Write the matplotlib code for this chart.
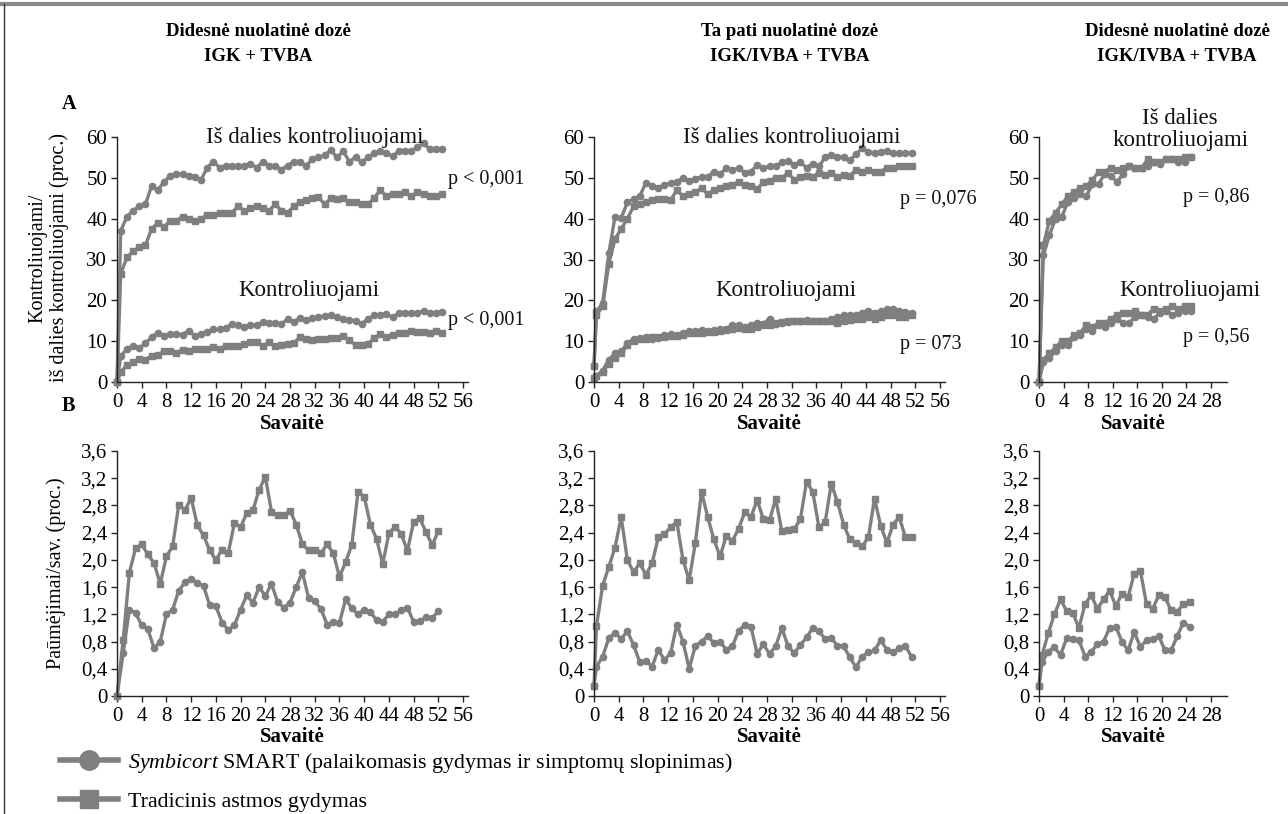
import numpy as np
import matplotlib
matplotlib.use("Agg")
import matplotlib.pyplot as plt
from matplotlib.lines import Line2D

plt.rcParams['font.family'] = ['Liberation Serif', 'DejaVu Serif']
plt.rcParams['mathtext.fontset'] = 'custom'
plt.rcParams['mathtext.it'] = 'Liberation Serif:italic'
plt.rcParams['mathtext.rm'] = 'Liberation Serif'

# ---------------- DATA ----------------
col_titles = ["Didesnė nuolatinė dozė\nIGK + TVBA",
              "Ta pati nuolatinė dozė\nIGK/IVBA + TVBA",
              "Didesnė nuolatinė dozė\nIGK/IVBA + TVBA"]
series_names = [r"$\mathit{Symbicort}$ SMART (palaikomasis gydymas ir simptomų slopinimas)",
                "Tradicinis astmos gydymas"]

# Panel A, left (weeks 0..52)
a1_sym_part = [0, 37, 40.5, 42, 43, 43.5, 48, 47, 49, 50.5, 51, 51, 50.5, 50.3, 49.5, 52.5, 54, 52.5,
               53, 53, 52.8, 53, 53.5, 52.5, 54, 53, 53, 52, 53, 54, 54, 53, 54.5, 55, 55.5, 56.8,
               55, 56.5, 54, 55, 53.8, 55, 56, 56.5, 56, 55.3, 56.5, 56.5, 56.5, 57.5, 58.5, 57, 57, 57]
a1_trad_part = [0, 26.5, 30.5, 32, 33, 33.5, 37.5, 39, 38, 39.5, 39.5, 40.5, 40, 39.5, 40, 41, 41,
                41.3, 41.5, 41.5, 43, 42, 42.5, 43, 42.5, 42, 43.5, 42, 41.5, 43, 44, 44.5, 45, 45.3,
                43.5, 45, 44.8, 45, 44, 44, 43.5, 43.5, 45, 47, 45.5, 46, 46, 46.5, 45.5, 46.5, 46,
                45.5, 45.5, 46]
a1_sym_ctrl = [0, 6.3, 8.1, 8.9, 8.3, 9.5, 11.0, 12.1, 11.2, 11.7, 11.7, 11.6, 12.6, 11.2, 11.8, 12.3,
               12.9, 12.9, 13.3, 14.2, 13.9, 13.4, 13.9, 13.9, 14.6, 14.4, 14.4, 14.2, 15.4, 14.8,
               15.6, 15.1, 15.6, 15.9, 16.2, 16.3, 16.0, 15.4, 15.2, 15.0, 14.3, 15.4, 16.4, 16.4,
               16.7, 15.8, 16.9, 16.9, 16.9, 16.9, 17.4, 16.9, 17.0, 17.2]
a1_trad_ctrl = [0, 2.4, 4.2, 4.8, 5.6, 5.5, 6.4, 6.7, 7.5, 7.5, 7.2, 7.9, 7.7, 8.1, 8.1, 8.2, 8.6,
                8.1, 8.9, 8.7, 8.9, 9.3, 9.7, 9.7, 8.9, 9.7, 8.7, 9.1, 9.4, 9.5, 11.0, 10.5, 10.3,
                10.5, 10.5, 10.7, 10.7, 11.3, 10.2, 9.1, 9.1, 9.4, 10.7, 11.7, 11.0, 11.6, 12.1,
                12.0, 12.6, 12.3, 12.3, 12.0, 12.4, 12.1]

# Panel A, middle
a2_sym_part = [4, 17.3, 19.3, 31.5, 40.5, 40.2, 44, 44.8, 45.5, 48.8, 48, 47.5, 48.3, 48.7, 49, 50,
               49.3, 49.8, 50.2, 50.3, 51.5, 51, 52.3, 52, 52.3, 51.3, 51.5, 53.2, 52.3, 52.8, 52.8,
               53.8, 54.2, 53.2, 53.8, 52.5, 53.5, 52.8, 55, 55.5, 55.2, 55, 54.3, 55.8, 57.2, 56.3,
               56, 56.3, 56.5, 56, 56, 56.2, 56]
a2_trad_part = [4, 16.5, 18.5, 29, 35, 37.5, 40, 43, 43.5, 44, 44.5, 44.8, 44.8, 44.5, 47, 45.5, 46,
                46.5, 47.5, 46, 47, 47.5, 48, 48.3, 49, 48.2, 48, 47.2, 49, 49.3, 50, 50, 51.2,
                49.5, 50.3, 50.5, 50.2, 51.3, 50.8, 51.2, 50.3, 50.8, 50.5, 52, 51.5, 51.8, 51.5,
                51.5, 52.5, 52.5, 53, 52.8, 53]
a2_sym_ctrl = [1, 1.5, 2.8, 5.5, 7, 7.5, 9.5, 10.5, 10.8, 11, 10.5, 10.8, 11.5, 11.8, 11.5, 12, 12.5,
               12.5, 12.8, 12.5, 12.7, 13, 13, 14, 14, 13.5, 14, 14.5, 14.3, 15.5, 14.3, 14.5, 14.8,
               15, 15, 15.3, 15, 15, 15, 15.5, 16, 16.3, 16.5, 16.5, 17, 17.5, 17, 17.3, 17.8, 18,
               17.5, 17.2, 17]
a2_trad_ctrl = [1, 1.5, 2.5, 4.5, 6, 7, 9, 10, 10.5, 10.5, 11, 11, 11, 11.2, 11.3, 11.5, 12, 12, 12,
                12.2, 12.3, 12.5, 12.8, 13, 13.2, 13, 13, 13.5, 14, 14, 14.5, 14.8, 15, 15, 15, 15,
                15, 15, 15, 15, 14.5, 15, 15.2, 15.5, 15.5, 16, 15.5, 16, 16.5, 16.3, 16, 16, 16.3]

# Panel A, right
a3_sym_part = [0, 31, 36, 40, 40.5, 44, 45, 46, 45.5, 48.5, 48.5, 51, 50.5, 49, 51, 53, 52.5, 52.5,
               53, 54, 53.5, 54.5, 54.5, 54, 54, 55]
a3_trad_part = [0, 33.5, 39.5, 41.5, 43.5, 45.5, 46.5, 47.5, 48, 49.5, 51.5, 51.5, 52.5, 52, 52.5, 53,
                52.5, 52.5, 54.5, 54, 54, 54.5, 54.5, 54.5, 55, 55]
a3_sym_ctrl = [0, 5, 6, 7.5, 9, 9, 11, 11.5, 13, 12.5, 14, 13.5, 14.5, 15.5, 14.5, 14.5, 16, 16.5, 16,
               15.5, 17, 17.5, 16.5, 17, 17.5, 17.5]
a3_trad_ctrl = [0, 5.5, 7, 8.5, 10, 10, 11.5, 12, 14, 13.5, 14.5, 14.5, 15.5, 16.5, 17, 17, 17.5,
                16.5, 16.5, 18, 17.5, 18, 18.5, 18, 18.5, 18.5]

# Panel B, left (weeks 0..52)
b1_sym = [0, 0.63, 1.27, 1.22, 1.04, 0.98, 0.70, 0.8, 1.2, 1.27, 1.55, 1.67, 1.72, 1.66, 1.62, 1.33,
          1.32, 1.08, 0.97, 1.04, 1.27, 1.48, 1.37, 1.6, 1.47, 1.65, 1.38, 1.3, 1.37, 1.6, 1.82, 1.44,
          1.39, 1.28, 1.05, 1.09, 1.08, 1.42, 1.29, 1.2, 1.27, 1.24, 1.11, 1.09, 1.2, 1.2, 1.26, 1.3,
          1.09, 1.1, 1.16, 1.14, 1.25]
b1_trad = [0, 0.82, 1.81, 2.17, 2.23, 2.08, 1.95, 1.65, 2.05, 2.2, 2.81, 2.73, 2.91, 2.51, 2.36, 2.14,
           2.0, 2.15, 2.1, 2.54, 2.48, 2.69, 2.73, 3.03, 3.22, 2.71, 2.66, 2.66, 2.72, 2.52, 2.23,
           2.14, 2.14, 2.1, 2.23, 2.1, 1.75, 1.97, 2.22, 3.0, 2.93, 2.52, 2.31, 1.94, 2.39, 2.49,
           2.38, 2.13, 2.56, 2.61, 2.41, 2.22, 2.42]

# Panel B, middle
b2_sym = [0.15, 0.43, 0.58, 0.85, 0.93, 0.84, 0.95, 0.75, 0.5, 0.52, 0.43, 0.68, 0.53, 0.63, 1.05,
          0.8, 0.4, 0.74, 0.8, 0.88, 0.78, 0.8, 0.68, 0.73, 0.96, 1.04, 1.02, 0.62, 0.76, 0.62,
          0.73, 1.0, 0.73, 0.63, 0.75, 0.86, 1.0, 0.95, 0.84, 0.85, 0.74, 0.73, 0.57, 0.42, 0.58,
          0.64, 0.67, 0.82, 0.68, 0.64, 0.7, 0.74, 0.57]
b2_trad = [0.15, 1.03, 1.62, 1.9, 2.18, 2.63, 2.0, 1.82, 1.95, 1.78, 1.95, 2.33, 2.38, 2.48, 2.56,
           2.0, 1.7, 2.25, 3.0, 2.63, 2.3, 2.05, 2.35, 2.28, 2.46, 2.7, 2.63, 2.88, 2.6, 2.58, 2.9,
           2.42, 2.44, 2.45, 2.6, 3.15, 3.0, 2.48, 2.55, 3.12, 2.85, 2.52, 2.3, 2.25, 2.2, 2.33, 2.9,
           2.5, 2.25, 2.52, 2.63, 2.33, 2.33]

# Panel B, right
b3_sym = [0.15, 0.5, 0.65, 0.72, 0.6, 0.85, 0.84, 0.82, 0.58, 0.65, 0.76, 0.8, 1.0, 1.02, 0.8, 0.67,
          0.94, 0.72, 0.82, 0.84, 0.88, 0.67, 0.67, 0.88, 1.08, 1.02]
b3_trad = [0.15, 0.6, 0.92, 1.2, 1.42, 1.25, 1.22, 1.0, 1.35, 1.48, 1.28, 1.42, 1.55, 1.32, 1.5,
           1.45, 1.8, 1.84, 1.35, 1.28, 1.48, 1.45, 1.26, 1.24, 1.35, 1.38]

# Week positions (first entry = week 0, then weekly measurements with a start offset)
def weeks(n, offset):
    return np.concatenate([[0.0], np.arange(n) + offset])

wk_a1 = weeks(len(a1_sym_part) - 1, 0.6)
wk_a2 = weeks(len(a2_sym_part) - 1, 0.4)
wk_a3 = weeks(len(a3_sym_part) - 1, 0.7)
wk_b1 = np.arange(len(b1_sym), dtype=float)
wk_b2 = weeks(len(b2_sym) - 1, 0.4)
wk_b3 = weeks(len(b3_sym) - 1, 0.5)

xt_long = list(range(0, 57, 4))
xt_short = list(range(0, 29, 4))
yt_a = [0, 10, 20, 30, 40, 50, 60]
yt_b = [0, 0.4, 0.8, 1.2, 1.6, 2.0, 2.4, 2.8, 3.2, 3.6]
yt_b_labels = ["0", "0,4", "0,8", "1,2", "1,6", "2,0", "2,4", "2,8", "3,2", "3,6"]

# ---------------- FIGURE ----------------
W, H = 1288, 814
fig = plt.figure(figsize=(W / 100, H / 100), dpi=100)

def box(x0, yb, x1, yt):
    return [x0 / W, 1 - yb / H, (x1 - x0) / W, (yb - yt) / H]

LC = '#7f7f7f'
FS = 15
lkw = dict(color=LC, lw=2.4)
ckw = dict(marker='o', markersize=4.5, markerfacecolor=LC, markeredgecolor=LC)
skw = dict(marker='s', markersize=4, markerfacecolor=LC, markeredgecolor=LC)

def style(ax, xmax, xt, yt, ylabels=None, ymax=60):
    ax.set_xlim(0, xmax)
    ax.set_ylim(0, ymax)
    for s in ['top', 'right']:
        ax.spines[s].set_visible(False)
    for s in ['left', 'bottom']:
        ax.spines[s].set_color('#222222')
        ax.spines[s].set_linewidth(1.0)
    ax.set_xticks(xt)
    ax.set_yticks(yt)
    if ylabels is not None:
        ax.set_yticklabels(ylabels)
    ax.tick_params(direction='out', length=4, width=1, color='#222222', labelsize=FS)
    ax.tick_params(axis='x', pad=4)
    ax.tick_params(axis='y', pad=3)
    ax.set_xlabel("Savaitė", fontsize=FS, fontweight='bold', labelpad=1)
    ax.patch.set_alpha(0)

axA = [fig.add_axes(box(117, 382, 468, 137)),
       fig.add_axes(box(594, 382, 945, 137)),
       fig.add_axes(box(1039, 382, 1227, 137))]
axB = [fig.add_axes(box(117, 696, 468, 451)),
       fig.add_axes(box(594, 696, 945, 451)),
       fig.add_axes(box(1039, 696, 1227, 451))]

A_data = [(wk_a1, a1_sym_part, a1_trad_part, a1_sym_ctrl, a1_trad_ctrl),
          (wk_a2, a2_sym_part, a2_trad_part, a2_sym_ctrl, a2_trad_ctrl),
          (wk_a3, a3_sym_part, a3_trad_part, a3_sym_ctrl, a3_trad_ctrl)]
B_data = [(wk_b1, b1_sym, b1_trad), (wk_b2, b2_sym, b2_trad), (wk_b3, b3_sym, b3_trad)]
xmaxes = [56.8, 56.8, 30.6]
xticks = [xt_long, xt_long, xt_short]

for i in range(3):
    ax = axA[i]
    wk, sp, tp, sc, tc = A_data[i]
    ax.plot(wk, tp, **lkw, **skw, clip_on=False)
    ax.plot(wk, sp, **lkw, **ckw, clip_on=False)
    ax.plot(wk, tc, **lkw, **skw, clip_on=False)
    ax.plot(wk, sc, **lkw, **ckw, clip_on=False)
    style(ax, xmaxes[i], xticks[i], yt_a)

    ax = axB[i]
    wk, s, t = B_data[i]
    ax.plot(wk, t, **lkw, **skw, clip_on=False)
    ax.plot(wk, s, **lkw, **ckw, clip_on=False)
    style(ax, xmaxes[i], xticks[i], yt_b, yt_b_labels, ymax=3.6)

# annotations panel A
AFS = 16.5
tkw = dict(fontsize=AFS, color='#111111')
pkw = dict(fontsize=14.5, color='#111111')
axA[0].text(32, 60, "Iš dalies kontroliuojami", ha='center', va='center', **tkw)
axA[0].text(31, 22.5, "Kontroliuojami", ha='center', va='center', **tkw)
axA[0].text(53.5, 49.5, "p < 0,001", ha='left', va='center', **pkw)
axA[0].text(53.5, 15.0, "p < 0,001", ha='left', va='center', **pkw)

axA[1].text(32, 60, "Iš dalies kontroliuojami", ha='center', va='center', **tkw)
axA[1].text(31, 22.5, "Kontroliuojami", ha='center', va='center', **tkw)
axA[1].text(49.5, 44.6, "p = 0,076", ha='left', va='center', **pkw)
axA[1].text(49.5, 9.3, "p = 073", ha='left', va='center', **pkw)

axA[2].text(23, 61.8, "Iš dalies\nkontroliuojami", ha='center', va='center', linespacing=1.05, **tkw)
axA[2].text(24.6, 22.5, "Kontroliuojami", ha='center', va='center', **tkw)
axA[2].text(23.5, 45.3, "p = 0,86", ha='left', va='center', **pkw)
axA[2].text(23.5, 10.8, "p = 0,56", ha='left', va='center', **pkw)

# column titles
for cx, t in zip([258, 790, 1177], col_titles):
    fig.text(cx / W, 1 - 44 / H, t, ha='center', va='center', fontsize=13.5,
             fontweight='bold', linespacing=1.55)

fig.text(62 / W, 1 - 104 / H, "A", ha='left', va='center', fontsize=14.5, fontweight='bold')
fig.text(62 / W, 1 - 406 / H, "B", ha='left', va='center', fontsize=14.5, fontweight='bold')

fig.text(49 / W, 1 - 258 / H, "Kontroliuojami/\niš dalies kontroliuojami (proc.)",
         rotation=90, ha='center', va='center', fontsize=14.5, linespacing=1.15)
fig.text(56 / W, 1 - 573 / H, "Paūmėjimai/sav. (proc.)", rotation=90,
         ha='center', va='center', fontsize=14.5)

# legend
h1 = Line2D([], [], color=LC, lw=4, marker='o', markersize=14, markerfacecolor=LC, markeredgecolor=LC)
h2 = Line2D([], [], color=LC, lw=4, marker='s', markersize=13, markerfacecolor=LC, markeredgecolor=LC)
fig.legend([h1, h2], series_names, loc='upper left', bbox_to_anchor=(60 / W, 1 - 751 / H),
           frameon=False, fontsize=15.8, handlelength=2.65, handletextpad=0.45, labelspacing=0.75,
           borderaxespad=0, borderpad=0)

# page frame lines
fig.add_artist(Line2D([0, 1], [1 - 4 / H, 1 - 4 / H], transform=fig.transFigure, color='#8a8a8a', lw=3))
fig.add_artist(Line2D([4 / W, 4 / W], [0, 1 - 4 / H], transform=fig.transFigure, color='#333333', lw=1))

fig.savefig("out.png", dpi=100)
